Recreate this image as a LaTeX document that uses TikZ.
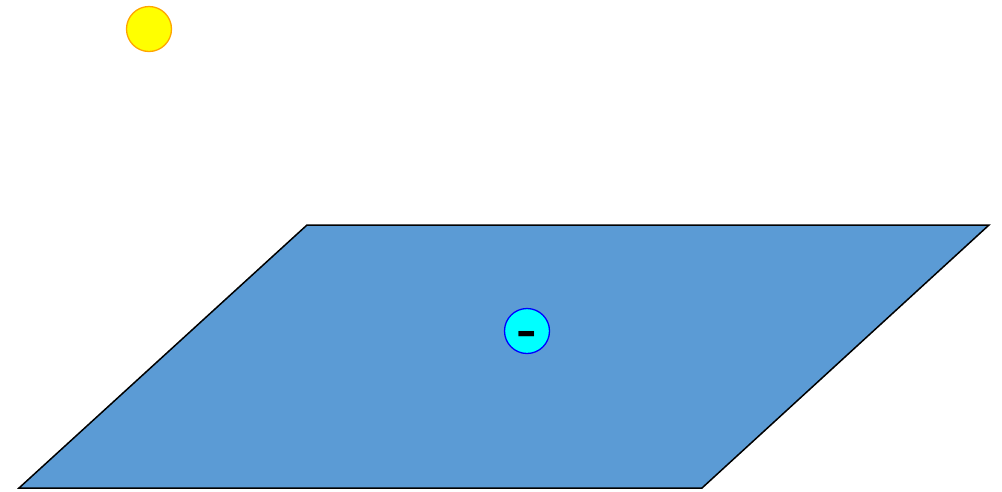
\documentclass[tikz,border=0pt]{standalone}
\usepackage{fontspec}
\setmainfont{Liberation Sans}
\definecolor{plane}{HTML}{5B9BD5}
\definecolor{sunorange}{HTML}{FFA500}
\definecolor{chargefill}{HTML}{00FFFF}
\definecolor{chargeblue}{HTML}{0000FF}
\definecolor{sunyellow}{HTML}{FFFF00}
\begin{document}
\begin{tikzpicture}[x=1pt,y=-1pt,
  planestyle/.style={fill=plane,draw=black,line width=1.5pt,line join=miter},
  sunstyle/.style={circle,fill=sunyellow,draw=sunorange,line width=1.3pt,minimum size=45pt,inner sep=0pt},
  chargestyle/.style={circle,fill=chargefill,draw=chargeblue,line width=1.3pt,minimum size=45pt,inner sep=0pt},
  signstyle/.style={inner sep=0pt,font=\fontsize{44}{44}\selectfont\bfseries,xscale=1.4}]
\useasboundingbox (0,0) rectangle (1002,491);
\coordinate (tl) at (307,225);
\coordinate (tr) at (989,225);
\coordinate (br) at (702,488);
\coordinate (bl) at (19,488);
\draw[planestyle] (tl) -- (tr) -- (br) -- (bl) -- cycle;
\node[sunstyle] (sun) at (149,29) {};
\node[chargestyle] (charge) at (527,331) {};
\node[signstyle,anchor=base] (sign) at ([yshift=-14.5pt]charge.center) {-};
\end{tikzpicture}
\end{document}
